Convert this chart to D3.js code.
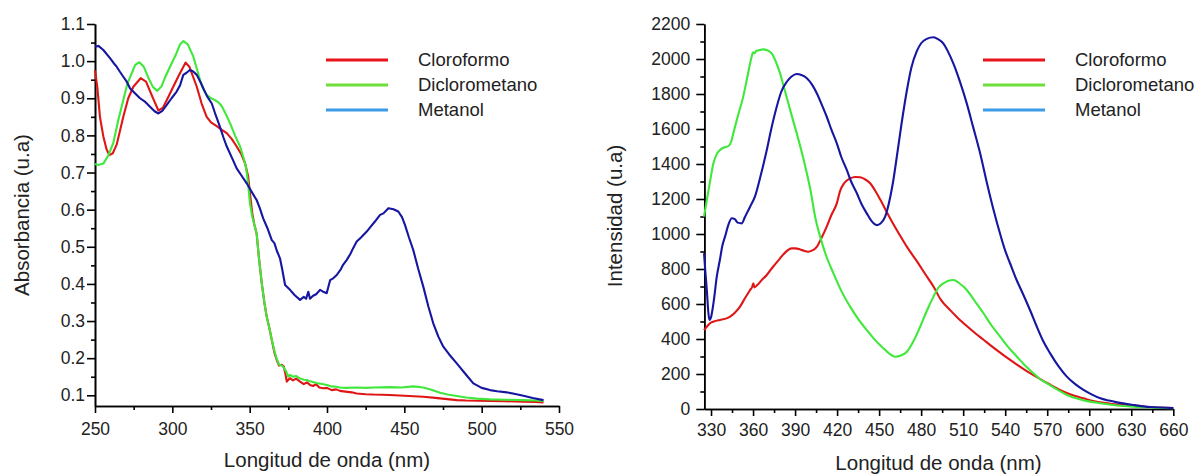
<!DOCTYPE html>
<html>
<head>
<meta charset="utf-8">
<script src="https://cdn.jsdelivr.net/npm/d3@7"></script>
<style>
  body { margin: 0; background: #fff; }
  svg { display: block; }
</style>
</head>
<body>
<script>
'use strict';

// solvents, same order in both charts
const solventes = ["Cloroformo", "Diclorometano", "Metanol"];

// absorbance spectra [nm, u.a]
const absCloroformo = [[250,0.975],[251.5,0.93],[253.2,0.85],[255.4,0.797],[257.5,0.762],[259.3,0.747],[261.5,0.752],[264,0.775],[268.3,0.85],[271.5,0.9],[274.8,0.931],[279.5,0.954],[283,0.945],[287,0.905],[291,0.867],[294,0.875],[297,0.9],[300.6,0.931],[304,0.96],[308.6,0.996],[311,0.985],[315.8,0.931],[319,0.885],[322.2,0.85],[325,0.835],[328.7,0.825],[332,0.815],[335.2,0.806],[338.5,0.79],[341.6,0.77],[344.5,0.75],[347,0.725],[349,0.69],[350.2,0.644],[351.7,0.59],[353,0.56],[354.5,0.536],[356,0.47],[357.8,0.402],[359.5,0.35],[361,0.312],[362.8,0.28],[364.3,0.249],[366,0.215],[367.5,0.195],[369,0.18],[370.7,0.182],[372,0.178],[373,0.16],[374,0.137],[376,0.146],[378,0.14],[380,0.145],[382.6,0.137],[385,0.13],[387,0.135],[389,0.128],[391,0.125],[393,0.13],[395,0.121],[397.6,0.119],[400,0.12],[403,0.114],[406,0.116],[408.4,0.112],[412,0.11],[416,0.108],[419.2,0.105],[425,0.103],[430,0.102],[440.7,0.101],[450,0.099],[462.3,0.096],[470,0.093],[483.9,0.087],[490,0.086],[505.4,0.085],[515,0.084],[527,0.083],[535,0.082],[540,0.081]];
const absDiclorometano = [[250,0.723],[252,0.72],[255.4,0.724],[258.5,0.745],[261.8,0.779],[265,0.84],[268.3,0.895],[271,0.94],[273.7,0.967],[276,0.99],[278.7,0.997],[281.5,0.985],[284.5,0.955],[287.5,0.93],[290.3,0.92],[293,0.932],[295.5,0.958],[298.5,0.985],[302,1.015],[305,1.045],[307.1,1.054],[310,1.045],[313.6,1.012],[315.8,0.98],[317.9,0.949],[320,0.925],[322.2,0.909],[325,0.9],[327.6,0.895],[330,0.888],[331.9,0.879],[334.5,0.858],[337.3,0.833],[340.5,0.8],[343.8,0.77],[346,0.74],[347.6,0.716],[349,0.67],[350.2,0.617],[351.7,0.58],[353,0.56],[354.5,0.536],[356,0.47],[357.8,0.402],[359.5,0.35],[361,0.312],[362.8,0.28],[364.3,0.25],[366,0.22],[367.5,0.198],[369,0.183],[370.7,0.18],[372,0.175],[373.5,0.165],[375,0.15],[376,0.155],[378,0.15],[380,0.152],[382.6,0.145],[385,0.142],[386.9,0.141],[389,0.138],[391,0.136],[393,0.133],[395,0.132],[397.6,0.13],[400,0.128],[403,0.124],[406,0.123],[408.4,0.121],[412,0.12],[419.2,0.121],[425,0.12],[430,0.121],[440.7,0.122],[448,0.121],[455.8,0.124],[462.3,0.121],[468,0.114],[473.1,0.107],[478,0.102],[483.9,0.098],[490,0.094],[497,0.091],[505.4,0.089],[515,0.088],[527,0.087],[535,0.086],[540,0.085]];
const absMetanol = [[250,1.039],[252.2,1.041],[255.4,1.03],[259.7,1.008],[262,0.995],[264,0.985],[266,0.972],[268.3,0.958],[270.5,0.945],[272.6,0.927],[275.5,0.915],[279.1,0.9],[282.5,0.89],[285.6,0.877],[288.5,0.865],[291,0.859],[293.5,0.866],[296.4,0.882],[299.5,0.9],[302.8,0.918],[305,0.935],[307.1,0.963],[309,0.968],[311.4,0.976],[313.5,0.972],[315.8,0.963],[318,0.945],[320,0.927],[322.5,0.905],[325.5,0.886],[328,0.855],[330.8,0.823],[333,0.795],[335.2,0.77],[338.5,0.74],[341.6,0.711],[345,0.69],[348.1,0.671],[351,0.65],[354.5,0.626],[356.5,0.605],[358.8,0.576],[361.5,0.55],[364.3,0.518],[366,0.51],[367.5,0.49],[369.6,0.469],[371,0.44],[372.9,0.397],[376.1,0.384],[379,0.37],[382.6,0.357],[385,0.365],[386.5,0.36],[387.9,0.379],[389,0.36],[391,0.368],[393,0.372],[395.5,0.384],[398,0.378],[399.8,0.375],[402,0.41],[404,0.415],[406.3,0.424],[409,0.44],[410.5,0.452],[412.7,0.464],[415,0.48],[417,0.497],[419.2,0.514],[422,0.525],[425.7,0.541],[428,0.553],[431,0.568],[434.3,0.586],[436.5,0.59],[439.7,0.604],[443,0.601],[446.1,0.595],[448.5,0.58],[450.4,0.559],[453,0.525],[455.8,0.491],[459,0.44],[462.3,0.392],[465.5,0.34],[468.7,0.294],[472,0.258],[475.2,0.231],[479,0.21],[483.9,0.186],[489,0.16],[494.6,0.132],[500,0.12],[505.4,0.114],[510,0.111],[516.2,0.108],[521,0.104],[527,0.099],[533,0.093],[540,0.087]];

// emission spectra [nm, intensity]
const emiCloroformo = [[325,451],[327,470],[329.3,490],[332,500],[336.4,509],[340,515],[343.6,528],[347,550],[350.7,585],[354,630],[357.9,680],[359.5,700],[360.2,718],[361,695],[363,708],[366,735],[369.8,766],[374,810],[379.3,861],[383,895],[387.6,918],[390,918],[393.6,912],[396,905],[399.5,899],[402,905],[405.5,927],[409,980],[412.6,1042],[416,1110],[419.8,1175],[422.1,1245],[425,1290],[429.3,1318],[433,1326],[436.4,1324],[440,1312],[443.6,1290],[447,1250],[450.7,1198],[455.5,1125],[460,1058],[465,990],[470,925],[476.9,845],[483,770],[488.8,700],[494,625],[500.7,565],[506,522],[512.6,474],[518,437],[524.5,396],[530,361],[536.4,322],[542,289],[548.4,254],[554,224],[560.2,193],[566,166],[572.1,139],[578,113],[584,91],[590,74],[595.9,61],[601,49],[607.9,38],[620,25],[631.7,17],[645,10],[660,6]];
const emiDiclorometano = [[325,1099],[327,1194],[329.5,1310],[331.7,1404],[334,1455],[336.4,1480],[339,1493],[342.4,1503],[344.5,1530],[345.9,1575],[349,1670],[353,1785],[356,1900],[359,2013],[360,2038],[361,2032],[362,2045],[364,2050],[367.4,2055],[370,2050],[373.3,2032],[376,1990],[379.3,1918],[382,1840],[385.2,1747],[388,1665],[391.2,1575],[395,1460],[398.4,1347],[401,1250],[404.3,1099],[407.9,985],[412,880],[417.4,775],[423,675],[429.3,585],[435,515],[441.2,451],[447,395],[453.1,347],[457,318],[461.4,299],[465.5,306],[469.8,327],[474,380],[479.3,470],[484,560],[488.8,642],[492,690],[495.9,718],[499,732],[503.1,737],[507,720],[512.6,680],[518,620],[524.5,547],[530,480],[536.4,413],[542,355],[548.4,299],[554,250],[560.2,204],[565,170],[569.8,147],[577,112],[584,80],[595,52],[607.9,33],[620,20],[631.7,13],[645,8],[660,4]];
const emiMetanol = [[325,890],[326,780],[327,680],[328,560],[328.8,509],[330,525],[332,620],[334.1,756],[336.5,860],[338,930],[340,985],[342.5,1055],[344.8,1090],[347,1085],[349,1065],[351.9,1061],[354.3,1099],[357.9,1156],[361.4,1215],[365,1320],[369.8,1480],[373,1600],[376.9,1727],[380,1810],[384.1,1870],[387.5,1900],[391.2,1914],[394.5,1908],[398.4,1890],[402,1855],[405.5,1804],[409,1740],[412.6,1670],[416,1595],[419.8,1518],[423,1440],[426.9,1366],[430,1300],[434.1,1233],[437.5,1170],[441.2,1118],[444.5,1075],[448.4,1051],[451,1060],[454.3,1099],[457.9,1210],[460,1300],[462.6,1440],[466,1630],[469.8,1820],[473,1950],[476.9,2045],[480,2090],[484,2115],[488.8,2124],[492,2114],[495.9,2088],[499,2045],[503.1,1972],[507.5,1875],[512.6,1745],[517,1615],[522.1,1462],[527,1290],[531.6,1140],[536.4,1000],[540,905],[543.6,830],[548,740],[553.1,650],[558,560],[562.6,470],[567,390],[572.1,318],[578,245],[584,185],[590,142],[595.9,109],[602,82],[607.9,61],[614,48],[619.8,38],[631.7,23],[643.6,11],[660,5]];

// tick labels
const absXTicks = [250, 300, 350, 400, 450, 500, 550];
const absYTicks = [0.1, 0.2, 0.3, 0.4, 0.5, 0.6, 0.7, 0.8, 0.9, 1.0, 1.1];
const emiXTicks = [330, 360, 390, 420, 450, 480, 510, 540, 570, 600, 630, 660];
const emiYTicks = [0, 200, 400, 600, 800, 1000, 1200, 1400, 1600, 1800, 2000, 2200];

(function () {

  let svgContainer = "";
  const lineColors = ["#e01515", "#3fe83a", "#1616a0"];
  const legendColors = ["#e8141c", "#6ede3a", "#3c9be6"];
  const font = "'Liberation Sans', Arial, sans-serif";

  window.onload = function () {
    svgContainer = d3.select('body')
      .append('svg')
      .attr('width', 1203)
      .attr('height', 474)
      .style('background', '#fff');

    // left: absorbance
    let absMap = drawAxes({
      xDomain: [250, 550], xRange: [95, 559],
      yDomain: [0.0712, 1.1], yRange: [406, 24],
      xTicks: absXTicks, xMinor: d3.range(275, 550, 50),
      yTicks: absYTicks, yMinor: d3.range(0.15, 1.1, 0.1),
      yFormat: d3.format(".1f"), yPad: 2, xPad: 10
    });
    plotData(absMap, [absCloroformo, absDiclorometano, absMetanol], d3.curveLinear);
    makeLegend(326, 388, 418);
    makeLabels(327, 460, 22, 215, "Absorbancia (u.a)");

    // right: emission
    let emiMap = drawAxes({
      xDomain: [325.2, 660], xRange: [704.3, 1173.3],
      yDomain: [0, 2200], yRange: [409, 24],
      xTicks: emiXTicks, xMinor: d3.range(345, 660, 30),
      yTicks: emiYTicks, yMinor: d3.range(100, 2200, 200),
      yFormat: d3.format("d"), yPad: 6, xPad: 8
    });
    plotData(emiMap, [emiCloroformo, emiDiclorometano, emiMetanol], d3.curveMonotoneX);
    makeLegend(983, 1045, 1075);
    makeLabels(938.5, 463, 615, 216, "Intensidad (u.a)");
  }

  // draw axes with major and minor ticks, return scales
  function drawAxes(o) {
    let xScale = d3.scaleLinear().domain(o.xDomain).range(o.xRange);
    let yScale = d3.scaleLinear().domain(o.yDomain).range(o.yRange);

    // minor ticks first so the major axis sits on top
    svgContainer.append('g')
      .attr('class', 'axis minor')
      .attr('transform', 'translate(0,' + o.yRange[0] + ')')
      .call(d3.axisBottom(xScale).tickValues(o.xMinor).tickSize(4).tickSizeOuter(0).tickFormat(""));
    svgContainer.append('g')
      .attr('class', 'axis minor')
      .attr('transform', 'translate(' + o.xRange[0] + ',0)')
      .call(d3.axisLeft(yScale).tickValues(o.yMinor).tickSize(4).tickSizeOuter(0).tickFormat(""));

    svgContainer.append('g')
      .attr('class', 'axis')
      .attr('transform', 'translate(0,' + o.yRange[0] + ')')
      .call(d3.axisBottom(xScale).tickValues(o.xTicks).tickSize(7).tickPadding(o.xPad).tickSizeOuter(0));
    svgContainer.append('g')
      .attr('class', 'axis')
      .attr('transform', 'translate(' + o.xRange[0] + ',0)')
      .call(d3.axisLeft(yScale).tickValues(o.yTicks).tickSize(8).tickPadding(o.yPad).tickSizeOuter(0).tickFormat(o.yFormat));

    svgContainer.selectAll('.axis path, .axis line')
      .attr('stroke', '#000')
      .attr('stroke-width', 1.6);
    svgContainer.selectAll('.axis text')
      .attr('fill', '#222')
      .style('font-family', font)
      .style('font-size', '17.5px');

    return { xScale: xScale, yScale: yScale };
  }

  function plotData(map, series, curve) {
    let valueLine = d3.line()
      .x((d) => map.xScale(d[0]))
      .y((d) => map.yScale(d[1]))
      .curve(curve);

    series.forEach(function (s, i) {
      svgContainer.append('path')
        .datum(s)
        .attr('class', 'line')
        .attr('fill', 'none')
        .attr('stroke', lineColors[i])
        .attr('stroke-width', 2.1)
        .attr('stroke-linejoin', 'round')
        .attr('d', valueLine);
    });
  }

  function makeLegend(x1, x2, tx) {
    solventes.forEach(function (name, i) {
      let y = 60 + i * 25;
      svgContainer.append('line')
        .attr('x1', x1).attr('x2', x2)
        .attr('y1', y).attr('y2', y)
        .attr('stroke', legendColors[i])
        .attr('stroke-width', 3);
      svgContainer.append('text')
        .attr('x', tx)
        .attr('y', y)
        .attr('dy', '0.35em')
        .attr('fill', '#222')
        .style('font-family', font)
        .style('font-size', '18.5px')
        .text(name);
    });
  }

  // axis titles
  function makeLabels(xx, xy, yx, yy, yText) {
    svgContainer.append('text')
      .attr('x', xx)
      .attr('y', xy)
      .attr('dy', '0.35em')
      .attr('text-anchor', 'middle')
      .attr('fill', '#222')
      .style('font-family', font)
      .style('font-size', '20.5px')
      .text('Longitud de onda (nm)');

    svgContainer.append('text')
      .attr('transform', 'translate(' + yx + ',' + yy + ')rotate(-90)')
      .attr('dy', '0.35em')
      .attr('text-anchor', 'middle')
      .attr('fill', '#222')
      .style('font-family', font)
      .style('font-size', '20.5px')
      .text(yText);
  }

})();
</script>
</body>
</html>
